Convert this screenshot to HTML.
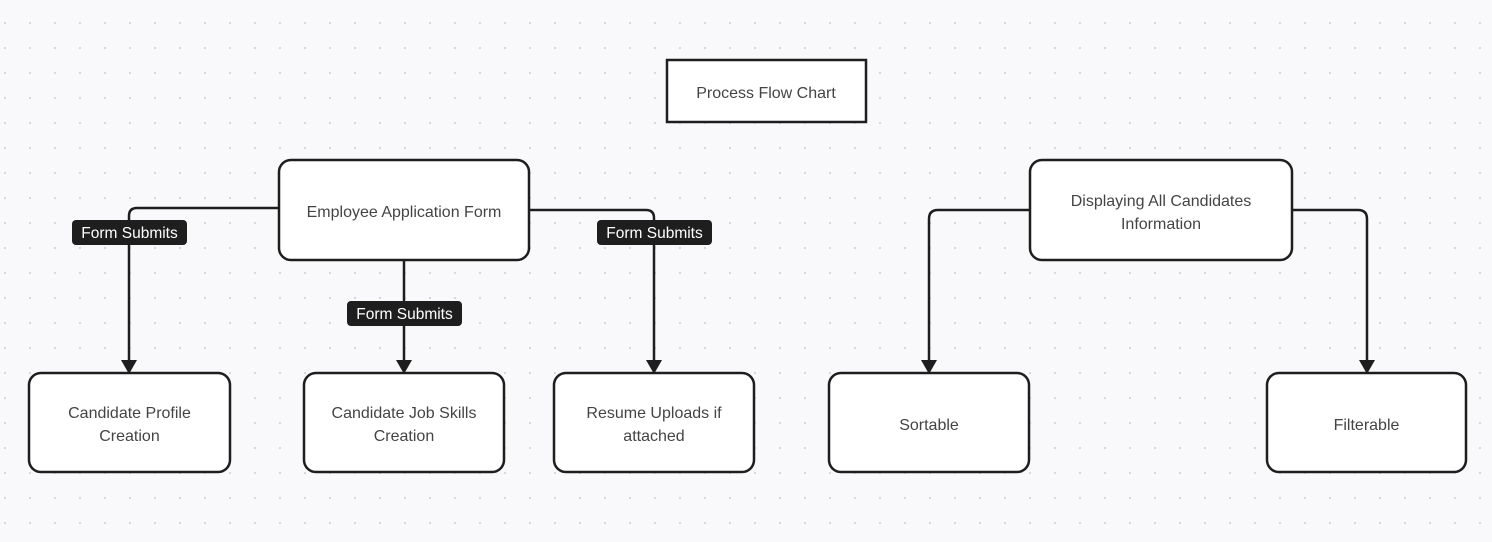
<!DOCTYPE html>
<html><head><style>
html,body{margin:0;padding:0;background:#f9f9fb;}
svg{display:block;}
text{font-family:"Liberation Sans",sans-serif;}
</style></head><body>
<svg width="1492" height="542" viewBox="0 0 1492 542" xmlns="http://www.w3.org/2000/svg">
<defs>
<pattern id="d" x="4" y="22" width="25" height="25" patternUnits="userSpaceOnUse">
<circle cx="1" cy="1" r="1.1" fill="#d4d4da"/></pattern>
</defs>
<rect width="1492" height="542" fill="url(#d)"/>
<g fill="none" stroke="#1e1e1e" stroke-width="2.5">
<path d="M278,208 H137 Q129,208 129,216 V360"/>
<path d="M404,261 V360"/>
<path d="M530,210 H646 Q654,210 654,218 V360"/>
<path d="M1029,210 H938 Q929,210 929,219 V360"/>
<path d="M1292,210 H1358 Q1367,210 1367,219 V360"/>
</g>
<g fill="#1e1e1e">
<path d="M121,360 L137,360 L129,374 z"/>
<path d="M396,360 L412,360 L404,374 z"/>
<path d="M646,360 L662,360 L654,374 z"/>
<path d="M921,360 L937,360 L929,374 z"/>
<path d="M1359,360 L1375,360 L1367,374 z"/>
</g>
<g fill="#fff" stroke="#1e1e1e" stroke-width="2.5">
<rect x="667" y="60" width="199" height="62"/>
<rect x="279" y="160" width="250" height="100" rx="12"/>
<rect x="1030" y="160" width="262" height="100" rx="12"/>
<rect x="29" y="373" width="201" height="99" rx="12"/>
<rect x="304" y="373" width="200" height="99" rx="12"/>
<rect x="554" y="373" width="200" height="99" rx="12"/>
<rect x="829" y="373" width="200" height="99" rx="12"/>
<rect x="1267" y="373" width="199" height="99" rx="12"/>
</g>
<g fill="#1e1e1e">
<rect x="72" y="220" width="115" height="25" rx="4"/>
<rect x="347" y="301" width="115" height="25" rx="4"/>
<rect x="597" y="220" width="115" height="25" rx="4"/>
</g>
<g fill="#fff" font-size="15.5" text-anchor="middle">
<text x="129.5" y="238">Form Submits</text>
<text x="404.5" y="319">Form Submits</text>
<text x="654.5" y="238">Form Submits</text>
</g>
<g fill="#444" font-size="16" text-anchor="middle">
<text x="766" y="98">Process Flow Chart</text>
<text x="404" y="217">Employee Application Form</text>
<text x="1161" y="206">Displaying All Candidates</text>
<text x="1161" y="229">Information</text>
<text x="129.5" y="418">Candidate Profile</text>
<text x="129.5" y="441">Creation</text>
<text x="404" y="418">Candidate Job Skills</text>
<text x="404" y="441">Creation</text>
<text x="654" y="418">Resume Uploads if</text>
<text x="654" y="441">attached</text>
<text x="929" y="430">Sortable</text>
<text x="1366.5" y="430">Filterable</text>
</g>
</svg>
</body></html>
